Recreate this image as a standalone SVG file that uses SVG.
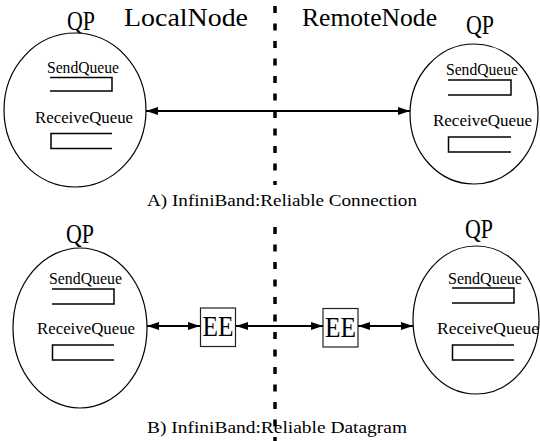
<svg xmlns="http://www.w3.org/2000/svg" width="540" height="441" viewBox="0 0 540 441">
<defs>
<marker id="ah" viewBox="0 0 12 8" refX="12" refY="4" markerWidth="12" markerHeight="8" markerUnits="userSpaceOnUse" orient="auto-start-reverse">
<path d="M0,0 L12,4 L0,8 Z" fill="#000"/>
</marker>
</defs>
<style>
.t{font-family:"Liberation Serif","DejaVu Serif",serif;fill:#000}
.big{font-size:26px}
.qpt{font-size:28px}
.sm{font-size:16px}
.cap{font-size:16px}
.ee{font-size:29px}
.qp{fill:#fff;stroke:#000;stroke-width:1.2}
.q{fill:none;stroke:#000;stroke-width:1.5}
.box{fill:#fff;stroke:#222;stroke-width:1.2}
.conn{stroke:#000;stroke-width:2;fill:none;marker-start:url(#ah);marker-end:url(#ah)}
.div{stroke:#000;stroke-width:3.5;stroke-dasharray:7 10.5;fill:none}
</style>
<rect width="540" height="441" fill="#fff"/>

<g id="divider">
<line class="div" x1="275" y1="6" x2="275" y2="185"/>
<line class="div" x1="275" y1="227" x2="275" y2="441"/>
</g>

<g id="labels">
<text class="t big" x="124" y="26" textLength="124" lengthAdjust="spacingAndGlyphs">LocalNode</text>
<text class="t big" x="302" y="26" textLength="135" lengthAdjust="spacingAndGlyphs">RemoteNode</text>
<text class="t cap" x="147" y="206" textLength="270" lengthAdjust="spacingAndGlyphs">A) InfiniBand:Reliable Connection</text>
<text class="t cap" x="147" y="433" textLength="260" lengthAdjust="spacingAndGlyphs">B) InfiniBand:Reliable Datagram</text>
</g>

<g id="qp-a-local">
<text class="t qpt" x="67" y="30" textLength="28" lengthAdjust="spacingAndGlyphs">QP</text>
<ellipse class="qp" cx="75" cy="110" rx="71" ry="77"/>
<text class="t sm" x="47" y="72.5" textLength="72" lengthAdjust="spacingAndGlyphs">SendQueue</text>
<path class="q" d="M50,77.5 H112 V91 H50"/>
<text class="t sm" x="35" y="123" textLength="98" lengthAdjust="spacingAndGlyphs">ReceiveQueue</text>
<path class="q" d="M112,133.5 H51 V148.5 H112"/>
</g>

<g id="qp-a-remote">
<text class="t qpt" x="466" y="34" textLength="28" lengthAdjust="spacingAndGlyphs">QP</text>
<ellipse class="qp" cx="474" cy="114" rx="64" ry="70"/>
<text class="t sm" x="446" y="75" textLength="72" lengthAdjust="spacingAndGlyphs">SendQueue</text>
<path class="q" d="M448,80 H511 V95 H448"/>
<text class="t sm" x="433" y="126" textLength="99" lengthAdjust="spacingAndGlyphs">ReceiveQueue</text>
<path class="q" d="M511,137 H448.5 V152 H511"/>
</g>

<g id="qp-b-local">
<text class="t qpt" x="66" y="243" textLength="28" lengthAdjust="spacingAndGlyphs">QP</text>
<ellipse class="qp" cx="80" cy="328" rx="67" ry="80"/>
<text class="t sm" x="49" y="284" textLength="73" lengthAdjust="spacingAndGlyphs">SendQueue</text>
<path class="q" d="M52,289 H114 V304 H52"/>
<text class="t sm" x="37" y="334" textLength="98" lengthAdjust="spacingAndGlyphs">ReceiveQueue</text>
<path class="q" d="M114,345 H52.5 V360 H114"/>
</g>

<g id="qp-b-remote">
<text class="t qpt" x="465" y="238" textLength="28" lengthAdjust="spacingAndGlyphs">QP</text>
<ellipse class="qp" cx="476" cy="320" rx="63" ry="74"/>
<text class="t sm" x="448" y="284" textLength="74" lengthAdjust="spacingAndGlyphs">SendQueue</text>
<path class="q" d="M452,288 H514 V303 H452"/>
<text class="t sm" x="437" y="334" textLength="102" lengthAdjust="spacingAndGlyphs">ReceiveQueue</text>
<path class="q" d="M514,345 H452.5 V360 H514"/>
</g>

<g id="ee-local">
<rect class="box" x="200.5" y="308" width="35" height="38.5"/>
<text class="t ee" x="202.5" y="336" textLength="31" lengthAdjust="spacingAndGlyphs">EE</text>
</g>

<g id="ee-remote">
<rect class="box" x="323" y="308.5" width="35" height="38.5"/>
<text class="t ee" x="325" y="336.5" textLength="31" lengthAdjust="spacingAndGlyphs">EE</text>
</g>

<g id="connectors">
<line class="conn" x1="146" y1="111" x2="410" y2="111"/>
<line class="conn" x1="147" y1="326" x2="200" y2="326"/>
<line class="conn" x1="236" y1="326" x2="323" y2="326"/>
<line class="conn" x1="358" y1="326" x2="413" y2="326"/>
</g>
</svg>
